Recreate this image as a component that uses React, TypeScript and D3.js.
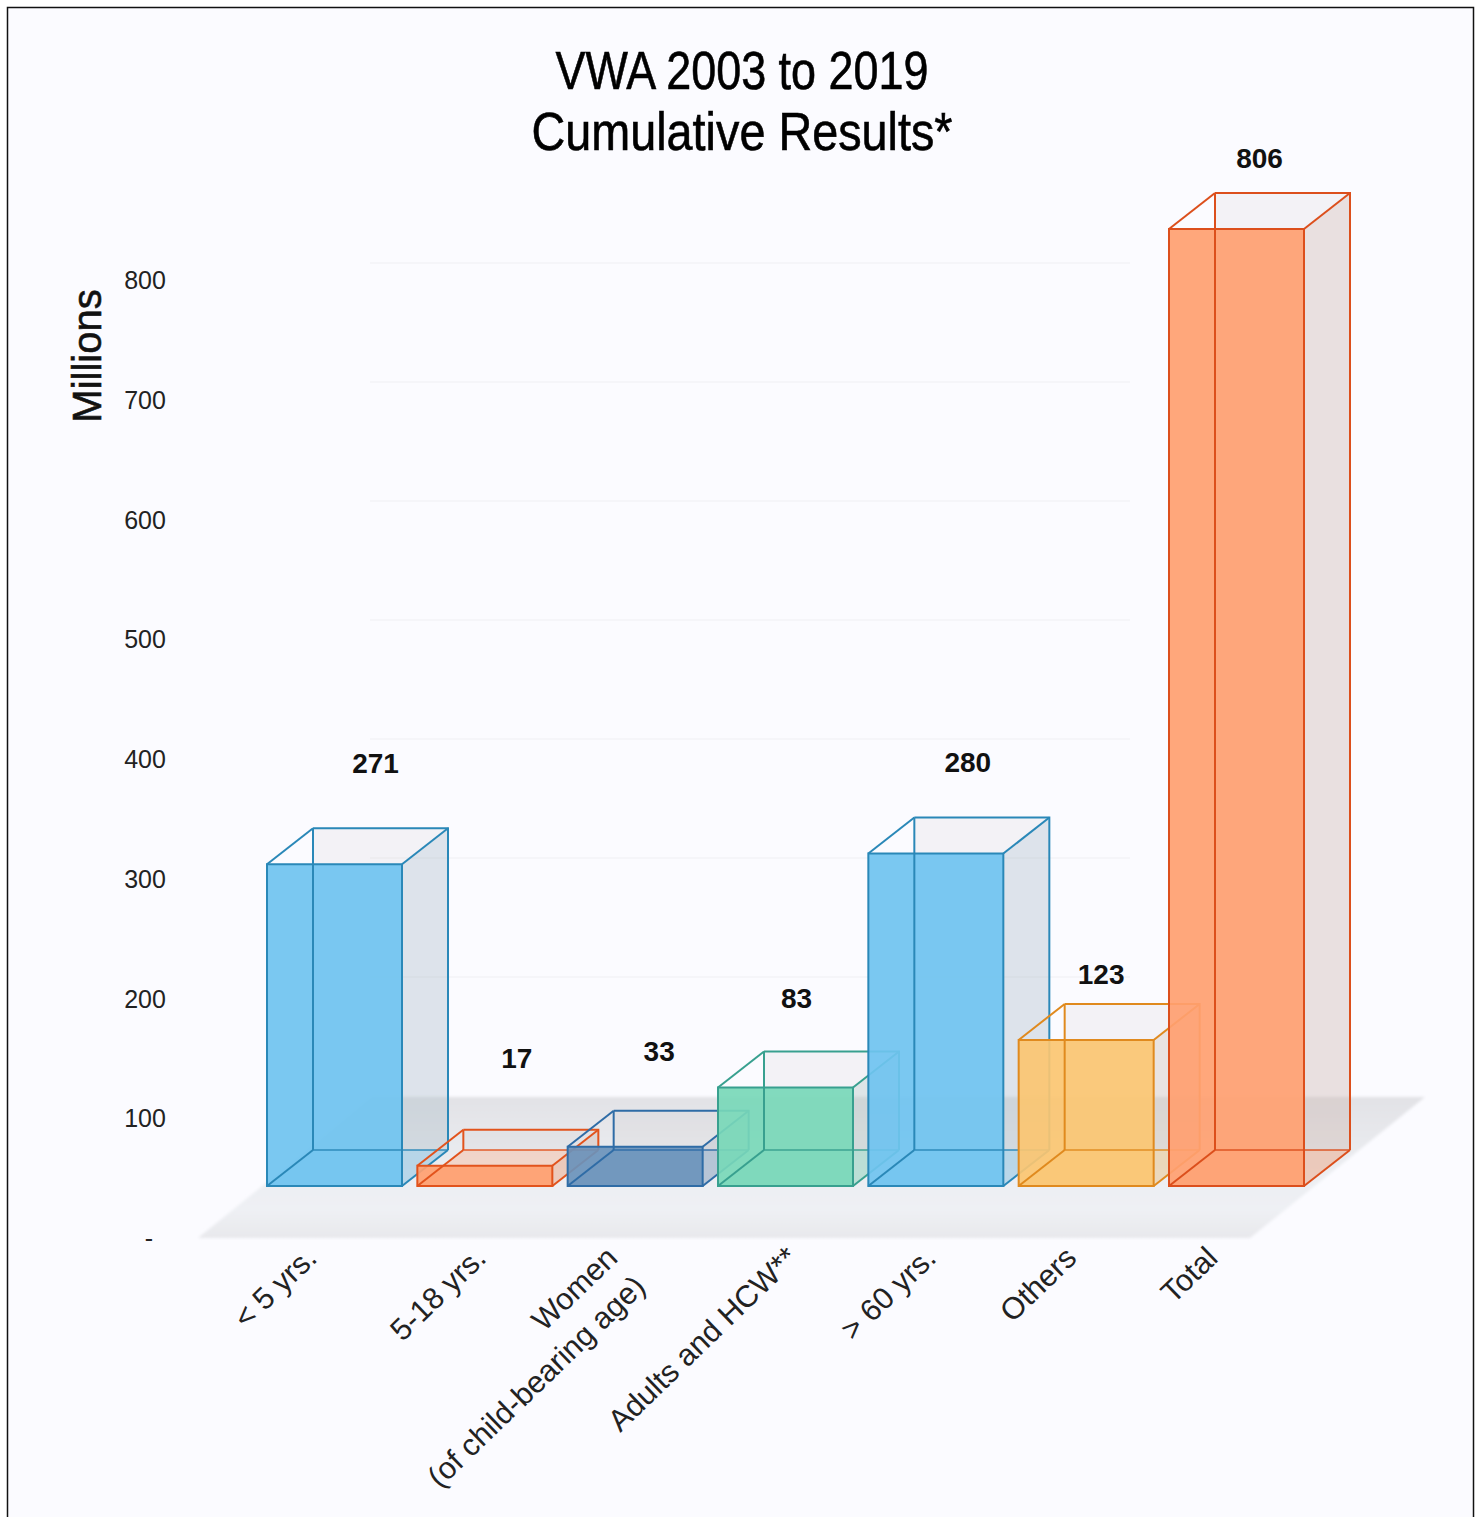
import React from "react";
import * as d3 from "d3";

const categories = ["< 5 yrs.", "5-18 yrs.", "Women|(of child-bearing age)", "Adults and HCW**", "> 60 yrs.", "Others", "Total"];
const values = [271, 17, 33, 83, 280, 123, 806];
const ticks = [0, 100, 200, 300, 400, 500, 600, 700, 800];
const gridValues = [200, 300, 400, 500, 600, 700, 800];
const edgeColors = ["#2a88b8", "#e2531c", "#2f6ca6", "#38a08f", "#2a88b8", "#e08a1e", "#dc4f1c"];
const frontColors = ["#6fc3f0", "#ff9f70", "#6a93bb", "#78d8b8", "#6fc3f0", "#fbc671", "#ff9f70"];

// Hand placement of the value labels and rotated category labels around each bar.
const valueLabelDx = [41, 32, 24, 11, 32, 15, 23];
const valueLabelDy = [-91, -98, -86, -79, -82, -56, -61];
const categoryLabelDx = [-16, 3, -16, 14, 2, -8, -17];

const WIDTH = 1482;
const HEIGHT = 1517;
const DEPTH_X = 46;
const DEPTH_Y = 36;

const sans = "'Liberation Sans', Arial, sans-serif";

export default function App() {
  const band = d3.scaleBand<number>().domain(d3.range(values.length)).range([267, 1304]).paddingInner(0.102).paddingOuter(0);
  const barY = d3.scaleLinear().domain([0, 806]).range([1186, 229]);
  const tickY = d3.scaleLinear().domain([0, 800]).range([1238, 280]);
  const gridY = d3.scaleLinear().domain([200, 800]).range([977, 263]);
  const line = d3.line<[number, number]>();
  const w = band.bandwidth();

  return (
    <svg width={WIDTH} height={HEIGHT} style={{ position: "absolute", left: 0, top: 0, display: "block" }}>
      <defs>
        <linearGradient id="floorShade" x1="0" y1="0" x2="0" y2="1">
          <stop offset="0" stopColor="#e2e2e6" />
          <stop offset="0.55" stopColor="#eceef2" />
          <stop offset="0.8" stopColor="#eef0f4" />
          <stop offset="1" stopColor="#e8e8ec" />
        </linearGradient>
        <filter id="softEdge" x="-5%" y="-5%" width="110%" height="110%">
          <feGaussianBlur stdDeviation="1.5" />
        </filter>
      </defs>
      <rect x={0} y={0} width={WIDTH} height={HEIGHT} fill="#ffffff" />
      <rect x={7.5} y={7.5} width={1466} height={1530} fill="#fbfbff" stroke="#111111" strokeWidth={1.5} />

      {gridValues.map((v) => (
        <line key={v} x1={370} x2={1130} y1={gridY(v)} y2={gridY(v)} stroke="#f5f5f9" strokeWidth={2} />
      ))}

      <path
        d={line([[198, 1238], [1250, 1238], [1425, 1097], [372, 1097]]) + "Z"}
        fill="url(#floorShade)"
        filter="url(#softEdge)"
      />

      {values.map((v, i) => {
        const x0 = band(i)!;
        const x1 = x0 + w;
        const yB = barY(0);
        const yT = barY(v);
        const bx0 = x0 + DEPTH_X;
        const bx1 = x1 + DEPTH_X;
        const byB = yB - DEPTH_Y;
        const byT = yT - DEPTH_Y;
        const edge = edgeColors[i];
        const shape = (pts: [number, number][]) => line(pts) + "Z";
        return (
          <g key={categories[i]}>
            {/* far faces, seen through the front of the box */}
            <path d={shape([[bx0, byT], [bx1, byT], [bx1, byB], [bx0, byB]])} fill="#c4c0c0" fillOpacity={0.14} />
            <path d={shape([[x1, yT], [bx1, byT], [bx1, byB], [x1, yB]])} fill={frontColors[i]} fillOpacity={0.1} />
            <path d={shape([[x1, yT], [bx1, byT], [bx1, byB], [x1, yB]])} fill="#bdbdc2" fillOpacity={0.2} />
            <path d={shape([[x0, yB], [x1, yB], [bx1, byB], [bx0, byB]])} fill={frontColors[i]} fillOpacity={0.3} />
            <path d={line([[bx0, byT], [bx1, byT], [bx1, byB]])!} fill="none" stroke={edge} strokeWidth={2} />
            <path d={line([[x0, yT], [bx0, byT]])!} stroke={edge} strokeWidth={2} fill="none" />
            <path d={line([[x1, yT], [bx1, byT]])!} stroke={edge} strokeWidth={2} fill="none" />
            <path d={line([[x1, yB], [bx1, byB]])!} stroke={edge} strokeWidth={2} fill="none" />
            {/* front face */}
            <path d={shape([[x0, yT], [x1, yT], [x1, yB], [x0, yB]])} fill={frontColors[i]} fillOpacity={0.92} stroke={edge} strokeWidth={2} />
            {/* inner edges stay visible through the translucent front */}
            <line x1={bx0} x2={bx0} y1={byT} y2={byB} stroke={edge} strokeWidth={2} />
            <path d={line([[x0, yB], [bx0, byB]])!} stroke={edge} strokeWidth={2} fill="none" />
            <line x1={bx0} x2={bx1} y1={byB} y2={byB} stroke={edge} strokeOpacity={0.7} strokeWidth={2} />
            <text
              x={x0 + w / 2 + valueLabelDx[i]}
              y={yT + valueLabelDy[i]}
              textAnchor="middle"
              fontFamily={sans}
              fontWeight={700}
              fontSize={28}
              fill="#111"
            >
              {v}
            </text>
          </g>
        );
      })}

      <g fontFamily={sans} fontSize={53} textAnchor="middle" fill="#000" stroke="#000" strokeWidth={0.6}>
        <text x={742} y={89} textLength={373} lengthAdjust="spacingAndGlyphs">VWA 2003 to 2019</text>
        <text x={742} y={150} textLength={421} lengthAdjust="spacingAndGlyphs">Cumulative Results*</text>
      </g>

      <text
        transform="translate(101,356) rotate(-90)"
        textAnchor="middle"
        fontFamily={sans}
        fontSize={40}
        stroke="#111"
        strokeWidth={0.6}
        fill="#111"
      >
        Millions
      </text>

      {ticks.map((t) => (
        <text
          key={t}
          x={t === 0 ? 149 : 145}
          y={tickY(t) + 9}
          textAnchor="middle"
          fontFamily={sans}
          fontSize={25}
          fill="#222"
        >
          {t === 0 ? "-" : t}
        </text>
      ))}

      {categories.map((c, i) => {
        const parts = c.split("|");
        const x = band(i)! + w / 2 + categoryLabelDx[i];
        return (
          <text
            key={c}
            transform={`translate(${x},1260) rotate(-44)`}
            textAnchor="end"
            fontFamily={sans}
            fontSize={30.5}
            fill="#222"
          >
            {parts.map((p, k) => (
              <tspan key={p} x={0} dy={k === 0 ? 0 : 40}>
                {p}
              </tspan>
            ))}
          </text>
        );
      })}
    </svg>
  );
}
